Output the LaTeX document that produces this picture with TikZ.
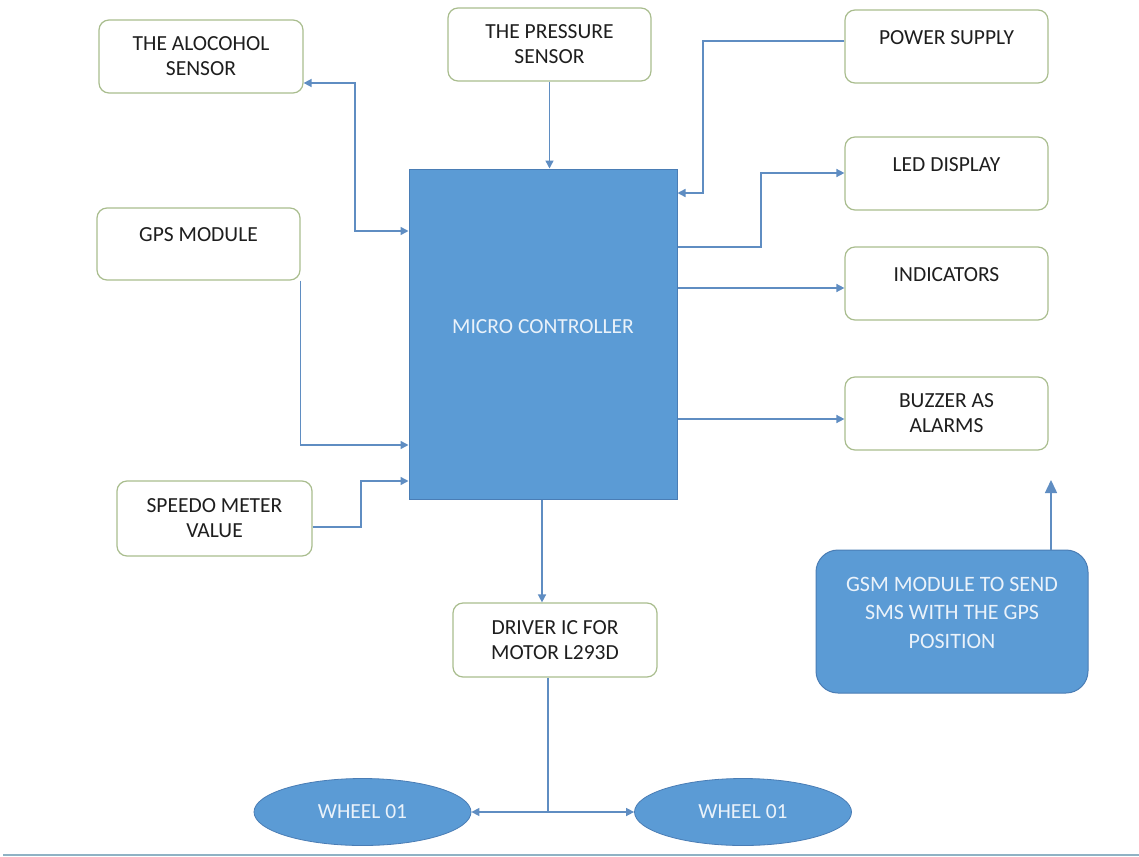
\documentclass[tikz,border=0pt]{standalone}
\usepackage{fontspec}
\setmainfont{Carlito}
\usetikzlibrary{arrows.meta,shapes.geometric}
\definecolor{mblue}{HTML}{5B9BD5}
\definecolor{mborder}{HTML}{4A7DB5}
\definecolor{conn}{HTML}{5F8DC2}
\definecolor{boxedge}{HTML}{A9BD8E}
\definecolor{txt}{HTML}{1E1E1E}
\definecolor{wtxt}{HTML}{EAF2FA}
\definecolor{baseln}{HTML}{8FB2C4}
\begin{document}
\begin{tikzpicture}[x=1pt,y=-1pt,
  wbox/.style={draw=boxedge,line width=1.2pt,fill=white,rounded corners=10pt,
    minimum width=203pt,minimum height=73pt,inner sep=0pt,align=center,text=txt,
    font=\fontsize{21.5}{25}\selectfont},
  bluebox/.style={draw=mborder,line width=1pt,fill=mblue,inner sep=0pt,align=center,
    text=wtxt,font=\fontsize{21.5}{25}\selectfont},
  wheel/.style={ellipse,draw=mborder,line width=0.8pt,fill=mblue,inner sep=0pt,
    minimum width=217pt,minimum height=67pt,text=wtxt,font=\fontsize{21.5}{25}\selectfont},
  conn/.style={draw=conn,line width=1.5pt},
  tip/.style={-{Triangle[length=8pt,width=8pt]}},
  bigtip/.style={-{Triangle[length=13pt,width=12pt]}},
  dtip/.style={{Triangle[length=8pt,width=8pt]}-{Triangle[length=8pt,width=8pt]}},
]
\useasboundingbox (0,0) rectangle (1139,856);
\fill[white] (0,0) rectangle (1139,856);

% boxes
\node[wbox,minimum width=204pt] (alc) at (201,56.5) {THE ALOCOHOL\\SENSOR};
\node[wbox] (press) at (549.5,44.5) {THE PRESSURE\\SENSOR};
\node[wbox] (pow) at (946.5,46.5) {POWER SUPPLY\\[-7pt]\mbox{}};
\node[wbox] (led) at (946.5,173.5) {LED DISPLAY\\[-7pt]\mbox{}};
\node[wbox] (ind) at (946.5,283.5) {INDICATORS\\[-7pt]\mbox{}};
\node[wbox] (buz) at (946.5,413.5) {BUZZER AS\\ALARMS};
\node[wbox,minimum height=72pt] (gps) at (198.5,244) {GPS MODULE\\[-7pt]\mbox{}};
\node[wbox,minimum width=195pt,minimum height=75pt] (spd) at (214.5,518.5) {SPEEDO METER\\VALUE};
\node[wbox,minimum width=204pt,minimum height=74pt] (drv) at (555,640) {DRIVER IC FOR\\MOTOR L293D};

\node[bluebox,minimum width=268pt,minimum height=330pt] (mc) at (543,334) {MICRO CONTROLLER\\[-11pt]\mbox{}};
\node[bluebox,rounded corners=22pt,minimum width=272pt,minimum height=143pt,
  font=\fontsize{22}{28.5}\selectfont] (gsm) at (952,621.5)
  {GSM MODULE TO SEND\\SMS WITH THE GPS\\POSITION\\[-10.5pt]\mbox{}};

\node[wheel] (w1) at (362.5,812) {WHEEL 01};
\node[wheel] (w2) at (743,812) {WHEEL 01};

% connectors
\draw[conn,dtip] (alc.east |- 0,83) -| (355,231) -- (mc.west |- 0,231);
\draw[conn,tip] (press.south) -- (press.south |- mc.north);
\draw[conn,tip] (pow.west |- 0,41) -| (703,193) -- (mc.east |- 0,193);
\draw[conn,tip] (mc.east |- 0,247) -| (761,173) -- (led.west |- 0,173);
\draw[conn,tip] (mc.east |- 0,288) -- (ind.west |- 0,288);
\draw[conn,tip] (mc.east |- 0,419) -- (buz.west |- 0,419);
\draw[conn,tip] (gps.south east) -- (gps.south east |- 0,445) -- (mc.west |- 0,445);
\draw[conn,tip] (spd.east |- 0,527) -| (361,481) -- (mc.west |- 0,481);
\draw[conn,tip] (mc.south -| 542,0) -- (drv.north -| 542,0);

\coordinate (split) at (548,812);
\draw[conn] (drv.south -| split) -- (split);
\draw[conn,tip] (split) -- (w1.east);
\draw[conn,tip] (split) -- (w2.west);

\coordinate (gsmend) at (1051,480);
\draw[conn,bigtip] (gsm.north -| gsmend) -- (gsmend);

% bottom rule
\draw[baseln,line width=2pt] (3,854.5) -- (1139,854.5);
\end{tikzpicture}
\end{document}
